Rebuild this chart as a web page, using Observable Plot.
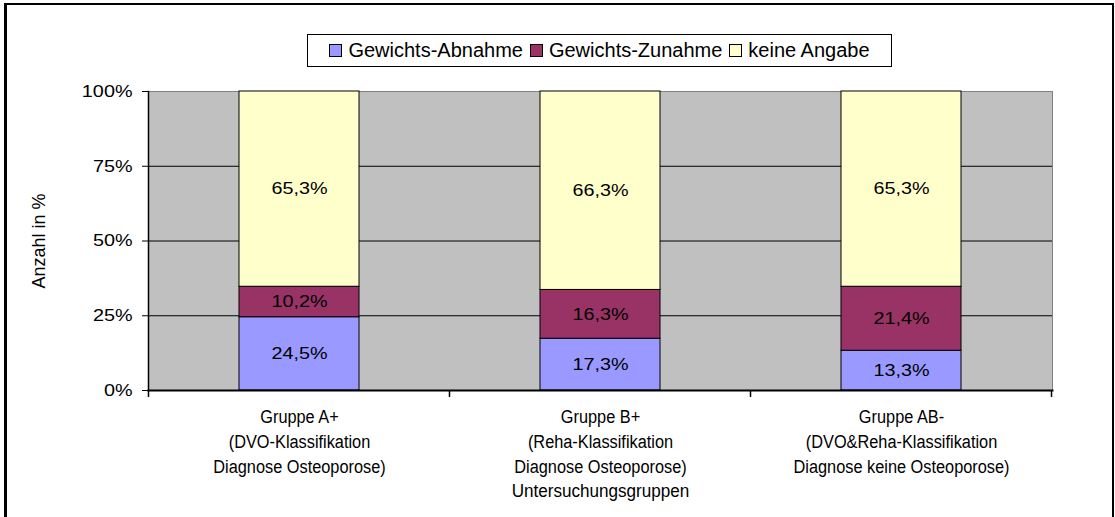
<!DOCTYPE html>
<html>
<head>
<meta charset="utf-8">
<script src="https://cdn.jsdelivr.net/npm/d3@7"></script>
<script src="https://cdn.jsdelivr.net/npm/@observablehq/plot@0.6"></script>
<style>
  html, body { margin: 0; padding: 0; background: #fff; }
  #wrap { position: relative; width: 1115px; height: 517px; overflow: hidden; font-family: "Liberation Sans", Arial, sans-serif; }
  #border { position: absolute; left: 4px; top: 3px; width: 1105px; height: 540px; border: 2px solid #000; border-left-width: 3px; }
  #legend { position: absolute; left: 307px; top: 34px; width: 583px; height: 31px; border: 1px solid #000; background: #fff;
            display: flex; align-items: center; justify-content: center; gap: 7px; font-size: 20px; color: #000; }
  #legend .item { display: flex; align-items: center; gap: 6px; }
  #legend .sw { width: 11px; height: 11px; border: 1px solid #000; }
  #legend .lt { display: inline-block; transform-origin: left center; }
  #chart { position: absolute; left: 0; top: 0; }
</style>
</head>
<body>
<div id="wrap">
  <div id="border"></div>
  <div id="chart"></div>
  <div id="legend"></div>
</div>
<script>
const groups = ["Gruppe A+", "Gruppe B+", "Gruppe AB-"];
const groupLabels = [
  "Gruppe A+\n(DVO-Klassifikation\nDiagnose Osteoporose)",
  "Gruppe B+\n(Reha-Klassifikation\nDiagnose Osteoporose)",
  "Gruppe AB-\n(DVO&Reha-Klassifikation\nDiagnose keine Osteoporose)"
];
const series = ["Gewichts-Abnahme", "Gewichts-Zunahme", "keine Angabe"];
const colors = ["#9999FF", "#993366", "#FFFFCC"];
const abnahme = [24.5, 17.3, 13.3];
const zunahme = [10.2, 16.3, 21.4];
const keineAngabe = [65.3, 66.3, 65.3];
const yTicks = [0, 0.25, 0.5, 0.75, 1];
const gridTicks = [0.25, 0.5, 0.75];

const seriesValues = [abnahme, zunahme, keineAngabe];
const data = [];
groups.forEach((g, gi) => {
  series.forEach((s, si) => {
    data.push({group: g, series: s, value: seriesValues[si][gi]});
  });
});
const fmt = v => v.toFixed(1).replace(".", ",") + "%";
const labelMap = new Map(groups.map((g, i) => [g, groupLabels[i]]));

const chart = Plot.plot({
  width: 1115,
  height: 517,
  marginLeft: 148,
  marginRight: 63,
  marginTop: 91,
  marginBottom: 127,
  style: {fontFamily: "'Liberation Sans', Arial, sans-serif", fontSize: "16px", color: "#000", background: "transparent"},
  x: {domain: groups, paddingInner: 0.6, paddingOuter: 0.3},
  y: {domain: [0, 1]},
  color: {domain: series, range: colors},
  marks: [
    Plot.frame({fill: "#C0C0C0", stroke: "#808080"}),
    Plot.ruleY(gridTicks, {stroke: "#000", strokeWidth: 1}),
    Plot.barY(data, Plot.stackY({offset: "normalize"}, {x: "group", y: "value", fill: "series", stroke: "#000", strokeWidth: 1})),
    Plot.text(data, Plot.stackY({offset: "normalize"}, {x: "group", y: "value", text: d => fmt(d.value), fill: "#000", fontSize: 16.5})),
    Plot.frame({anchor: "left", stroke: "#000", strokeWidth: 1.5}),
    Plot.frame({anchor: "bottom", stroke: "#000", strokeWidth: 2}),
    Plot.axisY({ticks: yTicks, tickFormat: d => Math.round(d * 100) + "%", tickSize: 6, tickPadding: 10, fontSize: 16.5,
      label: "Anzahl in %", labelAnchor: "center", labelArrow: "none", labelOffset: 116}),
    Plot.axisX({tickSize: 0, tickPadding: 15, tickFormat: d => labelMap.get(d), lineHeight: 1.32, fontSize: 19,
      label: "Untersuchungsgruppen", labelAnchor: "center", labelArrow: "none", labelOffset: 106})
  ]
});
document.getElementById("chart").appendChild(chart);
d3.select(chart).selectAll('g[aria-label="y-axis label"] text').style("font-size", "18px");
d3.select(chart).selectAll('g[aria-label="x-axis label"] text').style("font-size", "19px");

// horizontal stretch / condensing of text, as in the reference rendering
function stretch(selector, sx) {
  d3.select(chart).selectAll(selector).each(function() {
    const t = this.getAttribute("transform");
    if (t && t.includes("translate")) this.setAttribute("transform", t + ` scale(${sx},1)`);
  });
}
stretch('g[aria-label="text"] text', 1.2);
stretch('g[aria-label="y-axis tick label"] text', 1.2);
stretch('g[aria-label="x-axis tick label"] text', 0.86);
stretch('g[aria-label="x-axis label"] text', 0.9);

// category boundary ticks on x axis, from the library's band scale
const xs = chart.scale("x");
const ys = chart.scale("y");
const y0 = ys.apply(0);
const gap = (xs.step - xs.bandwidth) / 2;
const bounds = groups.map(g => xs.apply(g) - gap);
bounds.push(xs.apply(groups[groups.length - 1]) + xs.bandwidth + gap);
d3.select(chart).append("g")
  .selectAll("line").data(bounds).join("line")
  .attr("x1", d => d).attr("x2", d => d)
  .attr("y1", y0).attr("y2", y0 + 7)
  .attr("stroke", "#000").attr("stroke-width", 1.5);

// legend
const leg = document.getElementById("legend");
series.forEach((s, i) => {
  const it = document.createElement("div");
  it.className = "item";
  it.innerHTML = `<span class="sw" style="background:${colors[i]}"></span><span class="lt">${s}</span>`;
  leg.appendChild(it);
});
</script>
</body>
</html>
